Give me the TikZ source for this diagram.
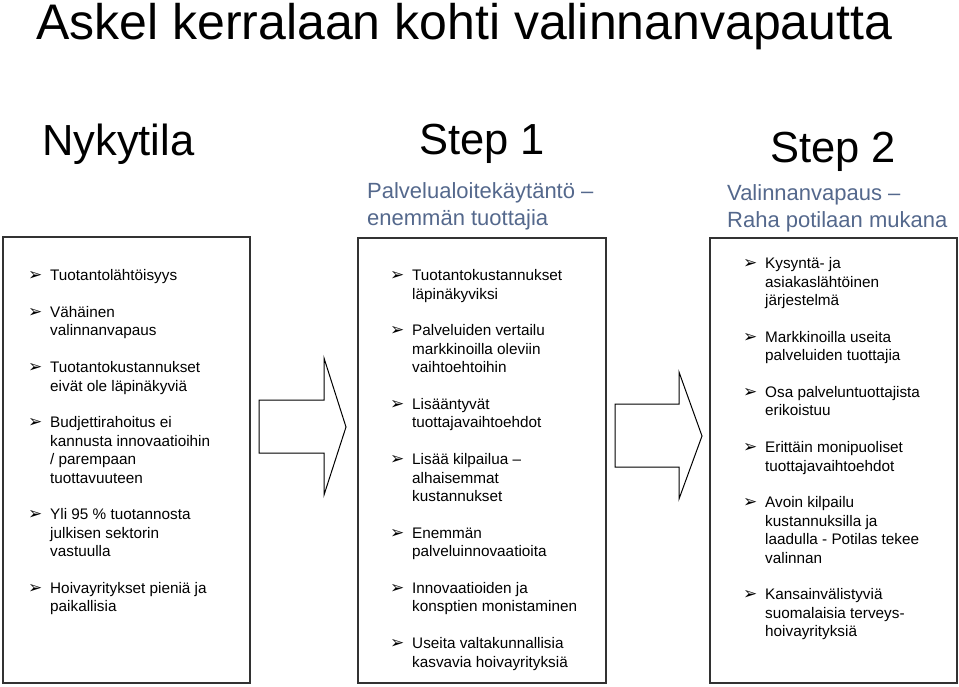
\documentclass[tikz,border=0pt]{standalone}
\usepackage{fontspec}
\setmainfont{Liberation Sans}
\newfontfamily\symfont{DejaVu Sans}
\usepackage{tikz}
\usetikzlibrary{positioning}

\definecolor{subblue}{RGB}{84,104,140}
\definecolor{frame}{RGB}{50,50,50}

\newcommand{\bl}{\makebox[22pt][l]{\raisebox{0pt}{\symfont\fontsize{17}{17}\selectfont ➢}}}
\newcommand{\ind}{\hspace*{22pt}}

\tikzset{
  colbox/.style={draw=frame,line width=1.3pt},
  itemlist/.style={anchor=north west,inner sep=0pt,align=left,
    font=\fontsize{15.3}{18.4}\selectfont},
  heading/.style={anchor=base,inner sep=0pt,font=\fontsize{43.5}{50}\selectfont},
  subhead/.style={anchor=base west,inner sep=0pt,align=left,text=subblue,
    font=\fontsize{22}{27}\selectfont},
  blockarrow/.style={draw=black,line width=1pt,fill=white}
}

\begin{document}
\begin{tikzpicture}[x=1pt,y=-1pt]
\useasboundingbox (0,0) rectangle (959,686);

% Title
\node[anchor=base west,inner sep=0pt,font=\fontsize{50}{56}\selectfont] (title) at (36,39) {Askel kerralaan kohti valinnanvapautta};

% Column headings
\node[heading,anchor=base west] (nyky) at (42,155) {Nykytila};
\node[heading] (step1) at (482,154) {Step 1};
\node[heading] (step2) at (833,162) {Step 2};
% (base anchor = last line)
\node[subhead] (sub1) at (367,225) {Palvelualoitekäytäntö --\\enemmän tuottajia};
\node[subhead] (sub2) at (727,227) {Valinnanvapaus --\\Raha potilaan mukana};

% Boxes
\draw[colbox] (3,237) rectangle (250,683);
\draw[colbox] (358,238) rectangle (606,683);
\draw[colbox] (710,238) rectangle (957,683);

% Block arrows between the boxes
\draw[blockarrow] (259,400) -- (324,400) -- (324,358) -- (346,427) -- (324,495)
  -- (324,453) -- (259,453) -- cycle;
\draw[blockarrow] (615,404) -- (679,404) -- (679,372) -- (702,436) -- (679,499)
  -- (679,467) -- (615,467) -- cycle;

% Nykytila items
\node[itemlist] (list0) at (28,267.6) {\strut\bl Tuotantolähtöisyys\\[18.4pt]
\bl Vähäinen\\ \ind valinnanvapaus\\[18.4pt]
\bl Tuotantokustannukset\\ \ind eivät ole läpinäkyviä\\[18.4pt]
\bl Budjettirahoitus ei\\ \ind kannusta innovaatioihin\\ \ind / parempaan\\ \ind tuottavuuteen\\[18.4pt]
\bl Yli 95 \% tuotannosta\\ \ind julkisen sektorin\\ \ind vastuulla\\[18.4pt]
\bl Hoivayritykset pieniä ja\\ \ind paikallisia};

% Step 1 items
\node[itemlist] (list1) at (390,267.6) {\strut\bl Tuotantokustannukset\\ \ind läpinäkyviksi\\[18.4pt]
\bl Palveluiden vertailu\\ \ind markkinoilla oleviin\\ \ind vaihtoehtoihin\\[18.4pt]
\bl Lisääntyvät\\ \ind tuottajavaihtoehdot\\[18.4pt]
\bl Lisää kilpailua --\\ \ind alhaisemmat\\ \ind kustannukset\\[18.4pt]
\bl Enemmän\\ \ind palveluinnovaatioita\\[18.4pt]
\bl Innovaatioiden ja\\ \ind konsptien monistaminen\\[18.4pt]
\bl Useita valtakunnallisia\\ \ind kasvavia hoivayrityksiä};

% Step 2 items
\node[itemlist] (list2) at (743,255.6) {\strut\bl Kysyntä- ja\\ \ind asiakaslähtöinen\\ \ind järjestelmä\\[18.4pt]
\bl Markkinoilla useita\\ \ind palveluiden tuottajia\\[18.4pt]
\bl Osa palveluntuottajista\\ \ind erikoistuu\\[18.4pt]
\bl Erittäin monipuoliset\\ \ind tuottajavaihtoehdot\\[18.4pt]
\bl Avoin kilpailu\\ \ind kustannuksilla ja\\ \ind laadulla - Potilas tekee\\ \ind valinnan\\[18.4pt]
\bl Kansainvälistyviä\\ \ind suomalaisia terveys-\\ \ind hoivayrityksiä};
\end{tikzpicture}
\end{document}
